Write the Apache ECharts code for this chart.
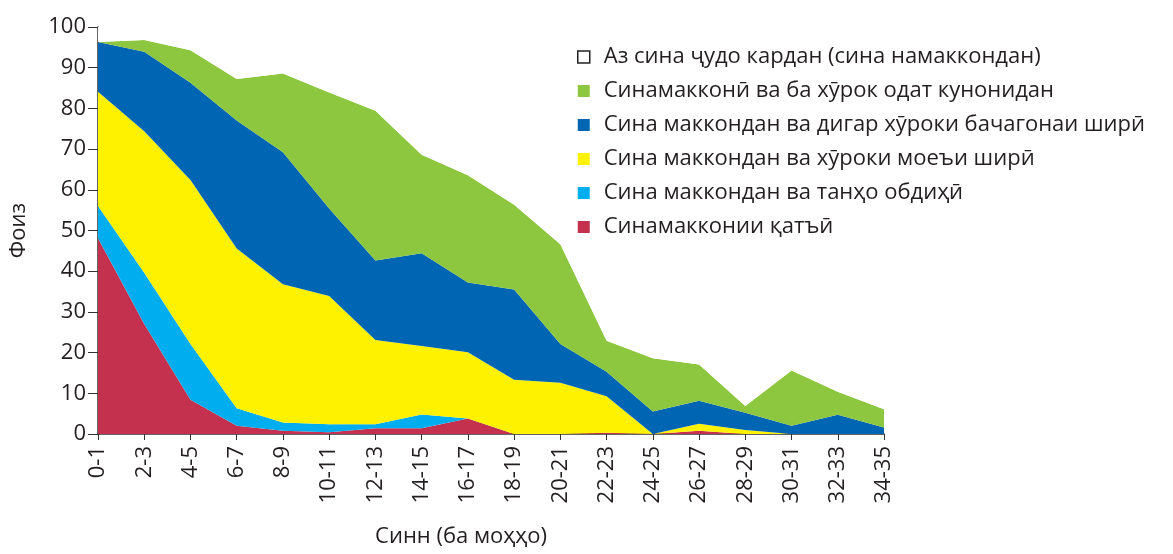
<!DOCTYPE html>
<html>
<head>
<meta charset="utf-8">
<script src="https://cdn.jsdelivr.net/npm/echarts@6/dist/echarts.min.js"></script>
<style>
  html, body { margin: 0; padding: 0; background: #fff; }
  #chart { width: 1173px; height: 554px; }
</style>
</head>
<body>
<div id="chart"></div>
<script>
const ages = ['0-1', '2-3', '4-5', '6-7', '8-9', '10-11', '12-13', '14-15', '16-17',
  '18-19', '20-21', '22-23', '24-25', '26-27', '28-29', '30-31', '32-33', '34-35']

// percentages per group, bottom to top of the stack
const exclusive = [48.1, 27.0, 8.4, 2.0, 0.8, 0.4, 1.4, 1.4, 3.8, 0, 0, 0.3, 0, 0.8, 0, 0, 0, 0]
const waterOnly = [7.9, 12.6, 13.7, 4.3, 2.0, 2.0, 1.0, 3.4, 0, 0, 0, 0, 0, 0, 0, 0, 0, 0]
const nonMilkLiquids = [28.1, 34.8, 40.3, 39.3, 34.0, 31.5, 20.7, 16.8, 16.3, 13.3, 12.6, 9.0, 0, 1.7, 1.0, 0, 0, 0]
const otherMilk = [12.2, 19.5, 23.9, 31.4, 32.4, 21.5, 19.5, 22.8, 17.1, 22.2, 9.5, 6.0, 5.5, 5.7, 4.2, 2.0, 4.7, 1.6]
const complementary = [0, 2.9, 8.0, 10.2, 19.4, 28.5, 36.8, 24.2, 26.4, 20.8, 24.5, 7.6, 13.1, 8.9, 1.7, 13.6, 5.7, 4.5]
const weaned = [3.7, 3.2, 5.7, 12.8, 11.4, 16.1, 20.6, 31.4, 36.4, 43.7, 53.4, 77.1, 81.4, 82.9, 93.1, 84.4, 89.6, 93.9]

const names = [
  'Синамакконии қатъӣ',
  'Сина маккондан ва танҳо обдиҳӣ',
  'Сина маккондан ва хӯроки моеъи ширӣ',
  'Сина маккондан ва дигар хӯроки бачагонаи ширӣ',
  'Синамакконӣ ва ба хӯрок одат кунонидан',
  'Аз сина ҷудо кардан (сина намаккондан)'
]
const colors = ['#C4314E', '#00AEEF', '#FFF200', '#0066B3', '#8DC63F', '#FFFFFF']
const values = [exclusive, waterOnly, nonMilkLiquids, otherMilk, complementary, weaned]

const font = 'Open Sans'
const axisColor = '#333'
const textColor = '#231F20'

const chart = echarts.init(document.getElementById('chart'))

const series = values.map((v, i) => ({
  name: names[i],
  type: 'line',
  stack: 'total',
  data: v,
  showSymbol: false,
  symbol: 'none',
  lineStyle: { width: 0 },
  areaStyle: { color: colors[i], opacity: 1 },
  itemStyle: { color: colors[i] },
  emphasis: { disabled: true }
}))

// legend lists the top layer first
const legendData = names.slice().reverse().map((n, k) => {
  const i = names.length - 1 - k
  return i === 5
    ? { name: n, itemStyle: { color: '#fff', borderColor: '#222', borderWidth: 1.5 } }
    : { name: n, itemStyle: { color: colors[i] } }
})

chart.setOption({
  animation: false,
  grid: { left: 97, right: 289, top: 27, bottom: 120 },
  legend: {
    orient: 'vertical',
    left: 577,
    top: 46,
    padding: 0,
    icon: 'rect',
    itemWidth: 12,
    itemHeight: 12,
    itemGap: 12,
    data: legendData,
    textStyle: { fontFamily: font, fontSize: 22, color: textColor, lineHeight: 22, padding: [0, 0, 0, 9] }
  },
  xAxis: {
    type: 'category',
    data: ages,
    boundaryGap: false,
    name: 'Синн (ба моҳҳо)',
    nameLocation: 'middle',
    nameGap: 92,
    nameTextStyle: { fontFamily: font, fontSize: 22, color: textColor, padding: [0, 60, 0, 0] },
    axisLine: { lineStyle: { color: axisColor, width: 1.5 } },
    axisTick: { alignWithLabel: true, length: 6, lineStyle: { color: axisColor } },
    axisLabel: { rotate: 90, margin: 12, fontFamily: font, fontSize: 22, color: textColor, interval: 0 }
  },
  yAxis: {
    type: 'value',
    min: 0,
    max: 100,
    interval: 10,
    name: 'Фоиз',
    nameLocation: 'middle',
    nameGap: 68,
    nameTextStyle: { fontFamily: font, fontSize: 22, color: textColor },
    splitLine: { show: false },
    axisLine: { show: true, lineStyle: { color: axisColor, width: 1.5 } },
    axisTick: { show: true, length: 10, lineStyle: { color: axisColor } },
    axisLabel: { margin: 12, fontFamily: font, fontSize: 22, color: textColor }
  },
  series: series
})
</script>
</body>
</html>
